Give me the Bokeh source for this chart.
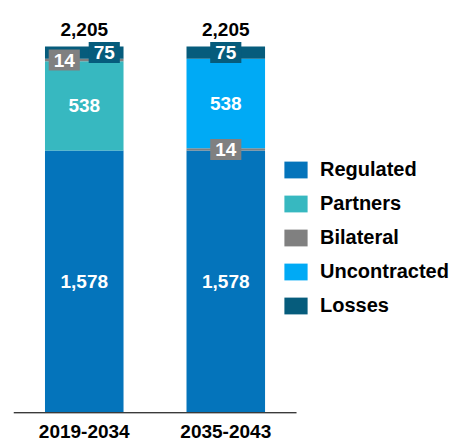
from bokeh.plotting import figure
from bokeh.models import ColumnDataSource, Range1d, Legend, LegendItem, FixedTicker
from bokeh.core.properties import value
from bokeh.embed import file_html
from bokeh.resources import INLINE

# ---- data ----
periods = ["2019-2034", "2035-2043"]
series = ["Regulated", "Partners", "Bilateral", "Uncontracted", "Losses"]
regulated = [1578, 1578]
partners = [538, 0]
bilateral = [14, 14]
uncontracted = [0, 538]
losses = [75, 75]

# ---- style ----
colors = {"Regulated": "#0474BB", "Partners": "#37B8C0", "Bilateral": "#808080",
          "Uncontracted": "#00AAF5", "Losses": "#065C7C"}
boxed = {"Bilateral": [-20, 0], "Losses": [20, 0]}   # x offsets (px) of boxed labels per bar
FONT = "Liberation Sans"

vals = {"Regulated": regulated, "Partners": partners, "Bilateral": bilateral,
        "Uncontracted": uncontracted, "Losses": losses}
xpos = [i + 0.5 for i in range(len(periods))]
src = ColumnDataSource(dict(x=xpos, **vals))

p = figure(x_range=Range1d(0, 3.095), y_range=Range1d(-4, 2433),
           width=451, height=453, output_backend="svg", toolbar_location=None,
           min_border_left=13, min_border_right=0, min_border_top=8, min_border_bottom=40)

renderers = p.vbar_stack(series, x="x", width=0.555, source=src,
                         color=[colors[s] for s in series], line_color=None)

# baseline under the bars
p.segment(x0=[0], x1=[len(periods)], y0=[0], y1=[0], line_color="#3a3a3a", line_width=1.6)

# segment labels
bottoms = [0] * len(periods)
for s in series:
    v = vals[s]
    xs, ys, txt, dx = [], [], [], []
    for i in range(len(periods)):
        if v[i] > 0:
            xs.append(xpos[i])
            ys.append(bottoms[i] + v[i] / 2)
            txt.append(f"{v[i]:,}")
            dx.append(boxed[s][i] if s in boxed else 0)
        bottoms[i] += v[i]
    ls = ColumnDataSource(dict(x=xs, y=ys, t=txt, dx=dx))
    kw = dict(x="x", y="y", text="t", x_offset="dx", source=ls, text_color="white",
              text_font=value(FONT), text_font_style="bold", text_font_size="19px",
              text_align="center", text_baseline="middle")
    if s in boxed:
        kw.update(background_fill_color=colors[s], padding=(5, 4))
    p.text(**kw)

totals = [sum(vals[s][i] for s in series) for i in range(len(periods))]
ts = ColumnDataSource(dict(x=xpos, y=totals, t=[f"{t:,}" for t in totals]))
p.text(x="x", y="y", text="t", source=ts, text_color="black", text_font=value(FONT),
       text_font_style="bold", text_font_size="19px", text_align="center",
       text_baseline="alphabetic", y_offset=-17)

p.yaxis.visible = False
p.xgrid.visible = False
p.ygrid.visible = False
p.outline_line_color = None
p.xaxis.ticker = FixedTicker(ticks=xpos)
p.xaxis.major_label_overrides = {x: lab for x, lab in zip(xpos, periods)}
p.xaxis.axis_line_color = None
p.xaxis.major_tick_line_color = None
p.xaxis.major_tick_out = 0
p.xaxis.major_tick_in = 0
p.xaxis.minor_tick_line_color = None
p.xaxis.major_label_standoff = 11
p.xaxis.major_label_text_font = FONT
p.xaxis.major_label_text_font_style = "bold"
p.xaxis.major_label_text_font_size = "19px"
p.xaxis.major_label_text_color = "black"

legend = Legend(items=[LegendItem(label=s, renderers=[r]) for s, r in zip(series, renderers)],
                location=(268, 96), padding=0, margin=0, spacing=11,
                glyph_width=29, glyph_height=21, label_standoff=10, label_height=21,
                label_text_font=FONT, label_text_font_style="bold",
                label_text_font_size="20px", label_text_color="black",
                border_line_color=None, background_fill_alpha=0)
p.add_layout(legend)

open("out.html", "w").write(file_html(p, INLINE))
